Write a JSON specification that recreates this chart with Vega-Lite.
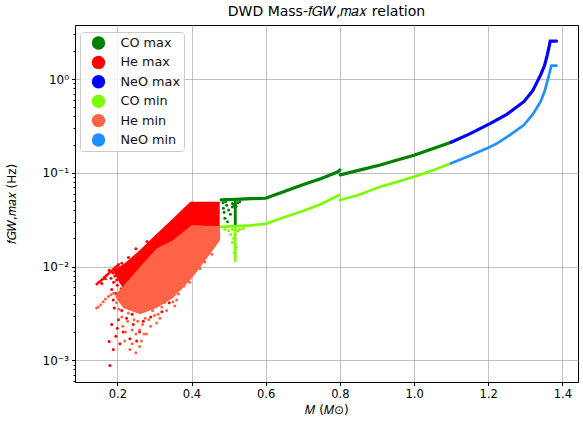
{
  "$schema": "https://vega.github.io/schema/vega-lite/v6.json",
  "width": 503,
  "height": 357,
  "autosize": {"type": "none"},
  "padding": {"left": 75, "top": 25, "right": 5, "bottom": 45},
  "title": {"text": "DWD Mass-𝑓𝐺𝑊,𝑚𝑎𝑥 relation", "fontSize": 14, "fontWeight": "normal", "color": "black", "anchor": "middle", "offset": 6},
  "config": {
    "font": "DejaVu Sans",
    "view": {"stroke": "black", "strokeWidth": 1},
    "axis": {"labelFontSize": 11.5, "labelColor": "black", "tickColor": "black", "domainColor": "black", "titleFontSize": 12, "titleFontWeight": "normal", "titleColor": "black", "gridColor": "#b0b0b0", "gridWidth": 0.8, "tickSize": 3.5, "labelPadding": 3, "zindex": 1},
    "legend": {"symbolSize": 180, "labelFontSize": 12.8, "labelColor": "#111111", "padding": 4, "rowPadding": 5.4, "strokeColor": "#cccccc", "cornerRadius": 3, "fillColor": "rgba(255,255,255,0.8)", "symbolType": "circle", "symbolOffset": 7.5, "labelOffset": 15, "symbolStrokeWidth": 0, "symbolOpacity": 1}
  },
  "datasets": {
    "tracks": [
      {"s": "CO max", "g": "a", "x": 0.48, "y": 0.0513},
      {"s": "CO max", "g": "a", "x": 0.52, "y": 0.052},
      {"s": "CO max", "g": "a", "x": 0.56, "y": 0.053},
      {"s": "CO max", "g": "a", "x": 0.6, "y": 0.0535},
      {"s": "CO max", "g": "a", "x": 0.65, "y": 0.063},
      {"s": "CO max", "g": "a", "x": 0.7, "y": 0.0746},
      {"s": "CO max", "g": "a", "x": 0.75, "y": 0.087},
      {"s": "CO max", "g": "a", "x": 0.795, "y": 0.1025},
      {"s": "CO max", "g": "a", "x": 0.8, "y": 0.107},
      {"s": "CO max", "g": "b", "x": 0.801, "y": 0.095},
      {"s": "CO max", "g": "b", "x": 0.85, "y": 0.106},
      {"s": "CO max", "g": "b", "x": 0.909, "y": 0.121},
      {"s": "CO max", "g": "b", "x": 0.95, "y": 0.135},
      {"s": "CO max", "g": "b", "x": 1.0, "y": 0.154},
      {"s": "CO max", "g": "b", "x": 1.05, "y": 0.18},
      {"s": "CO max", "g": "b", "x": 1.1, "y": 0.212},
      {"s": "NeO max", "g": "a", "x": 1.1, "y": 0.212},
      {"s": "NeO max", "g": "a", "x": 1.15, "y": 0.26},
      {"s": "NeO max", "g": "a", "x": 1.206, "y": 0.336},
      {"s": "NeO max", "g": "a", "x": 1.25, "y": 0.42},
      {"s": "NeO max", "g": "a", "x": 1.296, "y": 0.573},
      {"s": "NeO max", "g": "a", "x": 1.32, "y": 0.75},
      {"s": "NeO max", "g": "a", "x": 1.341, "y": 1.1},
      {"s": "NeO max", "g": "a", "x": 1.352, "y": 1.4},
      {"s": "NeO max", "g": "a", "x": 1.359, "y": 1.8},
      {"s": "NeO max", "g": "a", "x": 1.364, "y": 2.2},
      {"s": "NeO max", "g": "a", "x": 1.367, "y": 2.54},
      {"s": "NeO max", "g": "a", "x": 1.384, "y": 2.54},
      {"s": "CO min", "g": "a", "x": 0.48, "y": 0.0265},
      {"s": "CO min", "g": "a", "x": 0.52, "y": 0.027},
      {"s": "CO min", "g": "a", "x": 0.56, "y": 0.0275},
      {"s": "CO min", "g": "a", "x": 0.6, "y": 0.0285},
      {"s": "CO min", "g": "a", "x": 0.65, "y": 0.0335},
      {"s": "CO min", "g": "a", "x": 0.7, "y": 0.039},
      {"s": "CO min", "g": "a", "x": 0.75, "y": 0.0465},
      {"s": "CO min", "g": "a", "x": 0.798, "y": 0.058},
      {"s": "CO min", "g": "b", "x": 0.8, "y": 0.0512},
      {"s": "CO min", "g": "b", "x": 0.85, "y": 0.058},
      {"s": "CO min", "g": "b", "x": 0.909, "y": 0.071},
      {"s": "CO min", "g": "b", "x": 0.95, "y": 0.079},
      {"s": "CO min", "g": "b", "x": 1.0, "y": 0.0907},
      {"s": "CO min", "g": "b", "x": 1.05, "y": 0.106},
      {"s": "CO min", "g": "b", "x": 1.1, "y": 0.126},
      {"s": "NeO min", "g": "a", "x": 1.1, "y": 0.126},
      {"s": "NeO min", "g": "a", "x": 1.15, "y": 0.152},
      {"s": "NeO min", "g": "a", "x": 1.2, "y": 0.185},
      {"s": "NeO min", "g": "a", "x": 1.224, "y": 0.206},
      {"s": "NeO min", "g": "a", "x": 1.26, "y": 0.255},
      {"s": "NeO min", "g": "a", "x": 1.296, "y": 0.323},
      {"s": "NeO min", "g": "a", "x": 1.32, "y": 0.42},
      {"s": "NeO min", "g": "a", "x": 1.341, "y": 0.573},
      {"s": "NeO min", "g": "a", "x": 1.352, "y": 0.74},
      {"s": "NeO min", "g": "a", "x": 1.359, "y": 0.936},
      {"s": "NeO min", "g": "a", "x": 1.365, "y": 1.15},
      {"s": "NeO min", "g": "a", "x": 1.37, "y": 1.39},
      {"s": "NeO min", "g": "a", "x": 1.384, "y": 1.39}
    ],
    "stems": [
      {"s": "CO max", "x": 0.518, "y": 0.051, "y2": 0.0277},
      {"s": "CO min", "x": 0.518, "y": 0.0265, "y2": 0.0112}
    ],
    "cores": [
      {"s": "He max", "x": 0.19, "y": 0.0092, "y2": 0.0088},
      {"s": "He max", "x": 0.205, "y": 0.0099, "y2": 0.0068},
      {"s": "He max", "x": 0.22, "y": 0.0108, "y2": 0.0055},
      {"s": "He max", "x": 0.261, "y": 0.015, "y2": 0.0045},
      {"s": "He max", "x": 0.3, "y": 0.0211, "y2": 0.005},
      {"s": "He max", "x": 0.35, "y": 0.0326, "y2": 0.006},
      {"s": "He max", "x": 0.397, "y": 0.049, "y2": 0.008},
      {"s": "He max", "x": 0.476, "y": 0.049, "y2": 0.02},
      {"s": "He min", "x": 0.195, "y": 0.005, "y2": 0.0047},
      {"s": "He min", "x": 0.216, "y": 0.0062, "y2": 0.0036},
      {"s": "He min", "x": 0.261, "y": 0.0099, "y2": 0.0031},
      {"s": "He min", "x": 0.306, "y": 0.0156, "y2": 0.0036},
      {"s": "He min", "x": 0.35, "y": 0.019, "y2": 0.0046},
      {"s": "He min", "x": 0.401, "y": 0.0277, "y2": 0.0075},
      {"s": "He min", "x": 0.44, "y": 0.0272, "y2": 0.012},
      {"s": "He min", "x": 0.477, "y": 0.027, "y2": 0.019}
    ],
    "dots": [
      {"s": "He max", "x": 0.145, "y": 0.0065}, {"s": "He max", "x": 0.15, "y": 0.0068}, {"s": "He max", "x": 0.155, "y": 0.007},
      {"s": "He max", "x": 0.16, "y": 0.0073}, {"s": "He max", "x": 0.165, "y": 0.0077}, {"s": "He max", "x": 0.17, "y": 0.008},
      {"s": "He max", "x": 0.175, "y": 0.0083}, {"s": "He max", "x": 0.18, "y": 0.0087}, {"s": "He max", "x": 0.185, "y": 0.009},
      {"s": "He max", "x": 0.19, "y": 0.0094}, {"s": "He max", "x": 0.195, "y": 0.0098}, {"s": "He max", "x": 0.2, "y": 0.0101},
      {"s": "He max", "x": 0.158, "y": 0.0066}, {"s": "He max", "x": 0.168, "y": 0.0074}, {"s": "He max", "x": 0.178, "y": 0.0091},
      {"s": "He max", "x": 0.188, "y": 0.0085}, {"s": "He max", "x": 0.198, "y": 0.0091}, {"s": "He max", "x": 0.203, "y": 0.0105},
      {"s": "He max", "x": 0.208, "y": 0.0098}, {"s": "He max", "x": 0.212, "y": 0.0108}, {"s": "He max", "x": 0.193, "y": 0.0079},
      {"s": "He max", "x": 0.198, "y": 0.0072}, {"s": "He max", "x": 0.19, "y": 0.0068}, {"s": "He max", "x": 0.183, "y": 0.0075},
      {"s": "He max", "x": 0.178, "y": 0.00158}, {"s": "He max", "x": 0.189, "y": 0.0013}, {"s": "He max", "x": 0.18, "y": 0.00088},
      {"s": "He max", "x": 0.216, "y": 0.002}, {"s": "He max", "x": 0.234, "y": 0.0017}, {"s": "He max", "x": 0.252, "y": 0.0016},
      {"s": "He max", "x": 0.203, "y": 0.0027}, {"s": "He max", "x": 0.212, "y": 0.0034}, {"s": "He max", "x": 0.189, "y": 0.0044},
      {"s": "He max", "x": 0.195, "y": 0.0052}, {"s": "He max", "x": 0.185, "y": 0.0057}, {"s": "He max", "x": 0.2, "y": 0.0063},
      {"s": "He max", "x": 0.192, "y": 0.0036}, {"s": "He max", "x": 0.2, "y": 0.0022}, {"s": "He max", "x": 0.225, "y": 0.0028},
      {"s": "He max", "x": 0.243, "y": 0.0024}, {"s": "He max", "x": 0.26, "y": 0.002}, {"s": "He max", "x": 0.27, "y": 0.0026},
      {"s": "He max", "x": 0.22, "y": 0.0042}, {"s": "He max", "x": 0.21, "y": 0.0058}, {"s": "He max", "x": 0.23, "y": 0.0039},
      {"s": "He max", "x": 0.29, "y": 0.0029}, {"s": "He max", "x": 0.41, "y": 0.009}, {"s": "He max", "x": 0.385, "y": 0.0072},
      {"s": "He max", "x": 0.36, "y": 0.0058}, {"s": "He max", "x": 0.42, "y": 0.012}, {"s": "He max", "x": 0.43, "y": 0.0145},
      {"s": "He max", "x": 0.445, "y": 0.017}, {"s": "He max", "x": 0.455, "y": 0.02}, {"s": "He max", "x": 0.465, "y": 0.024},
      {"s": "He max", "x": 0.25, "y": 0.0155}, {"s": "He max", "x": 0.23, "y": 0.0125}, {"s": "He max", "x": 0.28, "y": 0.0185},
      {"s": "He max", "x": 0.207, "y": 0.0015}, {"s": "He max", "x": 0.196, "y": 0.0018}, {"s": "He max", "x": 0.24, "y": 0.0031},
      {"s": "He max", "x": 0.32, "y": 0.0033}, {"s": "He max", "x": 0.34, "y": 0.0041}, {"s": "He max", "x": 0.185, "y": 0.0024},
      {"s": "He min", "x": 0.144, "y": 0.0036}, {"s": "He min", "x": 0.149, "y": 0.0037}, {"s": "He min", "x": 0.155, "y": 0.0039},
      {"s": "He min", "x": 0.162, "y": 0.0042}, {"s": "He min", "x": 0.168, "y": 0.0045}, {"s": "He min", "x": 0.176, "y": 0.0048},
      {"s": "He min", "x": 0.183, "y": 0.005}, {"s": "He min", "x": 0.19, "y": 0.0052}, {"s": "He min", "x": 0.279, "y": 0.0019},
      {"s": "He min", "x": 0.306, "y": 0.0025}, {"s": "He min", "x": 0.333, "y": 0.0034}, {"s": "He min", "x": 0.36, "y": 0.0044},
      {"s": "He min", "x": 0.378, "y": 0.0066}, {"s": "He min", "x": 0.234, "y": 0.0013}, {"s": "He min", "x": 0.25, "y": 0.0012},
      {"s": "He min", "x": 0.265, "y": 0.0016}, {"s": "He min", "x": 0.22, "y": 0.0016}, {"s": "He min", "x": 0.24, "y": 0.0021},
      {"s": "He min", "x": 0.255, "y": 0.0026}, {"s": "He min", "x": 0.29, "y": 0.0023}, {"s": "He min", "x": 0.31, "y": 0.0031},
      {"s": "He min", "x": 0.32, "y": 0.0037}, {"s": "He min", "x": 0.345, "y": 0.0052}, {"s": "He min", "x": 0.37, "y": 0.0058},
      {"s": "He min", "x": 0.39, "y": 0.0075}, {"s": "He min", "x": 0.405, "y": 0.0085}, {"s": "He min", "x": 0.42, "y": 0.0107},
      {"s": "He min", "x": 0.43, "y": 0.012}, {"s": "He min", "x": 0.45, "y": 0.015}, {"s": "He min", "x": 0.46, "y": 0.017},
      {"s": "He min", "x": 0.47, "y": 0.019}, {"s": "He min", "x": 0.423, "y": 0.0095}, {"s": "He min", "x": 0.44, "y": 0.013},
      {"s": "He min", "x": 0.395, "y": 0.0068}, {"s": "He min", "x": 0.35, "y": 0.0042}, {"s": "He min", "x": 0.3, "y": 0.003},
      {"s": "He min", "x": 0.275, "y": 0.0028}, {"s": "He min", "x": 0.26, "y": 0.0021}, {"s": "He min", "x": 0.215, "y": 0.0023},
      {"s": "He min", "x": 0.205, "y": 0.0035}, {"s": "He min", "x": 0.21, "y": 0.0045}, {"s": "He min", "x": 0.228, "y": 0.0026},
      {"s": "He min", "x": 0.245, "y": 0.0027}, {"s": "He min", "x": 0.268, "y": 0.0024}, {"s": "He min", "x": 0.285, "y": 0.0027},
      {"s": "He min", "x": 0.23, "y": 0.0032}, {"s": "He min", "x": 0.25, "y": 0.0019}, {"s": "He min", "x": 0.272, "y": 0.0019},
      {"s": "He min", "x": 0.295, "y": 0.0034}, {"s": "He min", "x": 0.315, "y": 0.0028}, {"s": "He min", "x": 0.327, "y": 0.0041},
      {"s": "He min", "x": 0.338, "y": 0.0047}, {"s": "He min", "x": 0.355, "y": 0.0038}, {"s": "He min", "x": 0.365, "y": 0.0051},
      {"s": "He min", "x": 0.38, "y": 0.0062}, {"s": "He min", "x": 0.24, "y": 0.0015}, {"s": "He min", "x": 0.26, "y": 0.0014},
      {"s": "He min", "x": 0.222, "y": 0.002}, {"s": "He min", "x": 0.212, "y": 0.0029}, {"s": "He min", "x": 0.198, "y": 0.0041},
      {"s": "He min", "x": 0.41, "y": 0.0095}, {"s": "He min", "x": 0.436, "y": 0.0112}, {"s": "He min", "x": 0.455, "y": 0.0135},
      {"s": "CO max", "x": 0.486, "y": 0.0418}, {"s": "CO max", "x": 0.49, "y": 0.0327}, {"s": "CO max", "x": 0.5, "y": 0.04},
      {"s": "CO max", "x": 0.495, "y": 0.045}, {"s": "CO max", "x": 0.505, "y": 0.036}, {"s": "CO max", "x": 0.488, "y": 0.038},
      {"s": "CO max", "x": 0.51, "y": 0.043}, {"s": "CO max", "x": 0.497, "y": 0.03}, {"s": "CO max", "x": 0.51, "y": 0.047},
      {"s": "CO max", "x": 0.525, "y": 0.048}, {"s": "CO max", "x": 0.53, "y": 0.049}, {"s": "CO max", "x": 0.515, "y": 0.045},
      {"s": "CO max", "x": 0.52, "y": 0.044}, {"s": "CO max", "x": 0.485, "y": 0.048}, {"s": "CO max", "x": 0.492, "y": 0.049},
      {"s": "CO min", "x": 0.505, "y": 0.022}, {"s": "CO min", "x": 0.51, "y": 0.018}, {"s": "CO min", "x": 0.5, "y": 0.024},
      {"s": "CO min", "x": 0.515, "y": 0.014}, {"s": "CO min", "x": 0.51, "y": 0.025}, {"s": "CO min", "x": 0.53, "y": 0.025},
      {"s": "CO min", "x": 0.525, "y": 0.024}, {"s": "CO min", "x": 0.54, "y": 0.0255}, {"s": "CO min", "x": 0.513, "y": 0.02},
      {"s": "CO min", "x": 0.52, "y": 0.016}, {"s": "CO min", "x": 0.49, "y": 0.025}
    ]
  },
  "encoding": {
    "x": {"field": "x", "type": "quantitative", "scale": {"domain": [0.0859, 1.442], "nice": false, "zero": false},
      "axis": {"values": [0.2, 0.4, 0.6, 0.8, 1.0, 1.2, 1.4], "format": ".1f", "title": "𝑀 (𝑀⊙)", "titlePadding": 4}},
    "y": {"field": "y", "type": "quantitative", "scale": {"type": "log", "domain": [0.000586, 3.77], "nice": false},
      "axis": {"title": "𝑓𝐺𝑊,𝑚𝑎𝑥 (Hz)", "titlePadding": 24,
        "values": [0.0006, 0.0007, 0.0008, 0.0009, 0.001, 0.002, 0.003, 0.004, 0.005, 0.006, 0.007, 0.008, 0.009, 0.01, 0.02, 0.03, 0.04, 0.05, 0.06, 0.07, 0.08, 0.09, 0.1, 0.2, 0.3, 0.4, 0.5, 0.6, 0.7, 0.8, 0.9, 1, 2, 3],
        "labelExpr": "datum.value === 1 ? '10⁰' : datum.value === 0.1 ? '10⁻¹' : datum.value === 0.01 ? '10⁻²' : datum.value === 0.001 ? '10⁻³' : ''",
        "labelOverlap": false, "labelFontSize": 12,
        "gridOpacity": {"condition": {"test": "datum.value === 1 || datum.value === 0.1 || datum.value === 0.01 || datum.value === 0.001", "value": 1}, "value": 0},
        "tickSize": {"condition": {"test": "datum.value === 1 || datum.value === 0.1 || datum.value === 0.01 || datum.value === 0.001", "value": 3.5}, "value": 2}}}
  },
  "layer": [
    {"data": {"name": "stems"}, "transform": [{"filter": "datum.s === 'CO max'"}], "mark": {"type": "rule", "strokeWidth": 2.8},
      "encoding": {"y2": {"field": "y2"}, "stroke": {"field": "s", "type": "nominal", "scale": {"domain": ["CO max", "NeO max", "CO min", "NeO min"], "range": ["#008000", "#0000ff", "#7cfc00", "#1e90ff"]}, "legend": null}}},
    {"data": {"name": "tracks"}, "transform": [{"filter": "datum.s === 'CO max' || datum.s === 'NeO max'"}], "mark": {"type": "line", "strokeWidth": 3.2, "strokeCap": "round"},
      "encoding": {"detail": {"field": "g"}, "stroke": {"field": "s", "type": "nominal", "scale": {"domain": ["CO max", "NeO max", "CO min", "NeO min"], "range": ["#008000", "#0000ff", "#7cfc00", "#1e90ff"]}, "legend": null}}},
    {"data": {"name": "dots"}, "transform": [{"filter": "datum.s === 'CO max'"}], "mark": {"type": "point", "filled": true, "size": 9, "opacity": 1},
      "encoding": {"color": {"field": "s", "type": "nominal", "scale": {"domain": ["CO max", "He max", "NeO max", "CO min", "He min", "NeO min"], "range": ["#008000", "#ff0000", "#0000ff", "#7cfc00", "#ff6347", "#1e90ff"]}, "legend": {"title": null, "orient": "none", "legendX": 5, "legendY": 7}}}},
    {"data": {"name": "cores"}, "transform": [{"filter": "datum.s === 'He max'"}], "mark": {"type": "area", "opacity": 1},
      "encoding": {"y2": {"field": "y2"}, "fill": {"field": "s", "type": "nominal", "scale": {"domain": ["He max", "He min"], "range": ["#ff0000", "#ff6347"]}, "legend": null}}},
    {"data": {"name": "dots"}, "transform": [{"filter": "datum.s === 'He max'"}], "mark": {"type": "point", "filled": true, "size": 9, "opacity": 1},
      "encoding": {"color": {"field": "s", "type": "nominal", "scale": {"domain": ["CO max", "He max", "NeO max", "CO min", "He min", "NeO min"], "range": ["#008000", "#ff0000", "#0000ff", "#7cfc00", "#ff6347", "#1e90ff"]}, "legend": {"title": null, "orient": "none", "legendX": 5, "legendY": 7}}}},
    {"data": {"name": "stems"}, "transform": [{"filter": "datum.s === 'CO min'"}], "mark": {"type": "rule", "strokeWidth": 2.6},
      "encoding": {"y2": {"field": "y2"}, "stroke": {"field": "s", "type": "nominal", "scale": {"domain": ["CO max", "NeO max", "CO min", "NeO min"], "range": ["#008000", "#0000ff", "#7cfc00", "#1e90ff"]}, "legend": null}}},
    {"data": {"name": "tracks"}, "transform": [{"filter": "datum.s === 'CO min' || datum.s === 'NeO min'"}], "mark": {"type": "line", "strokeWidth": 2.7, "strokeCap": "round"},
      "encoding": {"detail": {"field": "g"}, "stroke": {"field": "s", "type": "nominal", "scale": {"domain": ["CO max", "NeO max", "CO min", "NeO min"], "range": ["#008000", "#0000ff", "#7cfc00", "#1e90ff"]}, "legend": null}}},
    {"data": {"name": "cores"}, "transform": [{"filter": "datum.s === 'He min'"}], "mark": {"type": "area", "opacity": 1},
      "encoding": {"y2": {"field": "y2"}, "fill": {"field": "s", "type": "nominal", "scale": {"domain": ["He max", "He min"], "range": ["#ff0000", "#ff6347"]}, "legend": null}}},
    {"data": {"name": "dots"}, "transform": [{"filter": "datum.s === 'He min' || datum.s === 'CO min'"}], "mark": {"type": "point", "filled": true, "size": 9, "opacity": 1},
      "encoding": {"color": {"field": "s", "type": "nominal", "scale": {"domain": ["CO max", "He max", "NeO max", "CO min", "He min", "NeO min"], "range": ["#008000", "#ff0000", "#0000ff", "#7cfc00", "#ff6347", "#1e90ff"]}, "legend": {"title": null, "orient": "none", "legendX": 5, "legendY": 7}}}}
  ]
}
